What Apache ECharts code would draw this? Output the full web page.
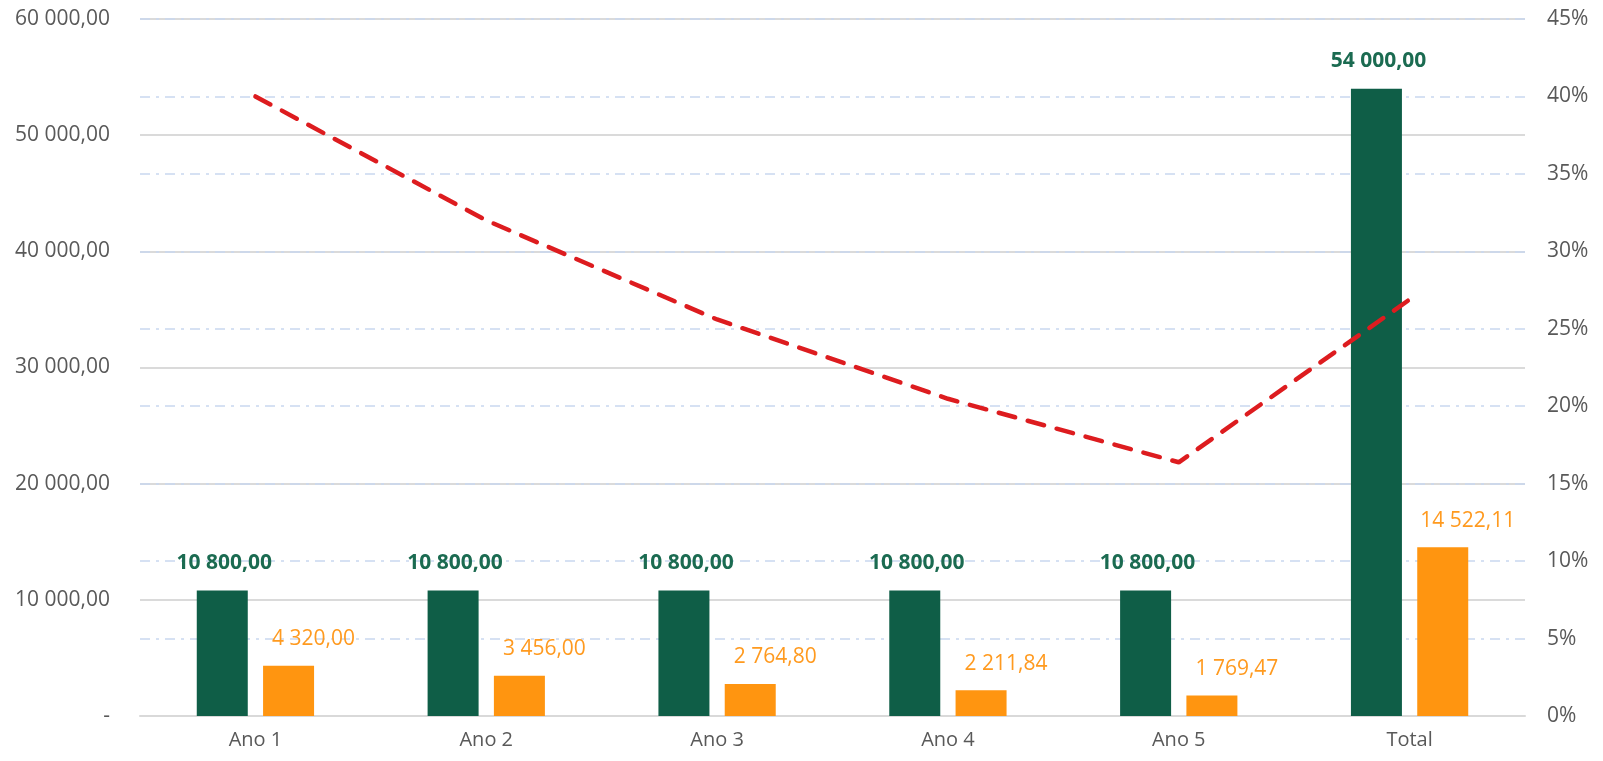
<!DOCTYPE html>
<html>
<head>
<meta charset="utf-8">
<script src="https://cdn.jsdelivr.net/npm/echarts@6/dist/echarts.min.js"></script>
<style>
	html, body { margin: 0; padding: 0; background: #FFFFFF; }
	#main { width: 1603px; height: 761px; }
</style>
</head>
<body>
<div id="main"></div>
<script>
// categorias do eixo X
var categorias = ['Ano 1', 'Ano 2', 'Ano 3', 'Ano 4', 'Ano 5', 'Total'];

// valores das barras verdes
var valor_base = [10800, 10800, 10800, 10800, 10800, 54000];

// valores das barras laranja
var valor_depreciacao = [4320.00, 3456.00, 2764.80, 2211.84, 1769.47, 14522.11];

// taxa (%) - linha tracejada, eixo da direita
var taxa = [40, 32, 25.6, 20.48, 16.38, 26.89];

// formata 10800 -> "10 800,00"
function formatNum(v) {
	var partes = v.toFixed(2).split('.');
	var inteiro = partes[0].replace(/\B(?=(\d{3})+(?!\d))/g, ' ');
	return inteiro + ',' + partes[1];
}

var fonte = '"Open Sans", "Noto Sans", sans-serif';

var option = {
	backgroundColor: '#FFFFFF',
	animation: false,
	textStyle: {
		fontFamily: fonte
	},
	grid: {
		left: 140,
		right: 78,
		top: 19,
		bottom: 45
	},
	xAxis: {
		type: 'category',
		data: categorias,
		axisTick: { show: false },
		axisLine: {
			lineStyle: { color: '#D9D9D9', width: 2 }
		},
		axisLabel: {
			color: '#595959',
			fontSize: 20,
			margin: 14,
			fontFamily: fonte
		}
	},
	yAxis: [{
			type: 'value',
			min: 0,
			max: 60000,
			interval: 10000,
			axisLine: { show: false },
			axisTick: { show: false },
			axisLabel: {
				color: '#595959',
				fontSize: 21,
				margin: 30,
				fontFamily: fonte,
				formatter: function(v) {
					if (v === 0) {
						return '-';
					}
					return formatNum(v);
				}
			},
			splitLine: {
				lineStyle: { color: '#DADADA', width: 2 }
			}
		},
		{
			type: 'value',
			min: 0,
			max: 45,
			interval: 5,
			axisLine: { show: false },
			axisTick: { show: false },
			axisLabel: {
				color: '#595959',
				fontSize: 21,
				margin: 22,
				fontFamily: fonte,
				formatter: '{value}%'
			},
			splitLine: {
				show: true,
				lineStyle: {
					color: '#C9D7F0',
					width: 1.5,
					type: [10, 6, 3, 6]
				}
			}
		}
	],
	series: [{
			name: 'Base',
			type: 'bar',
			data: valor_base,
			barWidth: 51,
			barGap: '30%',
			itemStyle: { color: '#0F5E47' },
			label: {
				show: true,
				position: 'top',
				distance: 17,
				offset: [2, 0],
				color: '#1B6B51',
				fontWeight: 'bold',
				fontSize: 21,
				fontFamily: fonte,
				formatter: function(p) {
					return formatNum(p.value);
				}
			},
			z: 2
		},
		{
			name: 'Depreciação',
			type: 'bar',
			data: valor_depreciacao,
			barWidth: 51,
			itemStyle: { color: '#FF9510' },
			label: {
				show: true,
				position: 'top',
				distance: 16,
				offset: [25, 0],
				color: '#FF9A1F',
				fontSize: 21,
				fontFamily: fonte,
				formatter: function(p) {
					return formatNum(p.value);
				}
			},
			z: 2
		},
		{
			name: 'Taxa',
			type: 'line',
			yAxisIndex: 1,
			data: taxa,
			symbol: 'none',
			lineStyle: {
				color: '#DD1C1F',
				width: 4.5,
				type: [17, 13],
				cap: 'round'
			},
			z: 5
		}
	]
};

var myChart = echarts.init(document.getElementById('main'));
myChart.setOption(option);
</script>
</body>
</html>
